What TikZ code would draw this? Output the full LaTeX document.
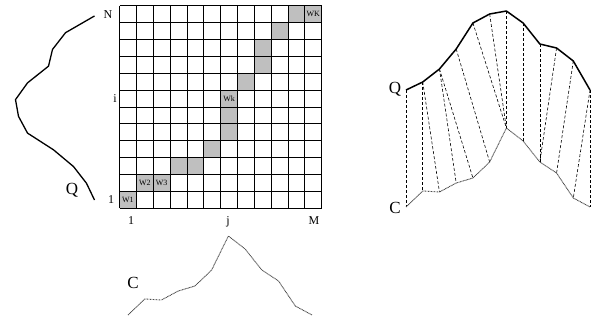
\documentclass[tikz,border=0pt]{standalone}
\usepackage{fontspec}
\setmainfont{Liberation Serif}
\usetikzlibrary{calc}
\def\warppath{0/0,1/1,1/2,2/3,2/4,3/5,4/6,5/6,6/6,7/7,8/8,9/8,10/9,11/10,11/11}
\def\cs{16.85}

\begin{document}
\begin{tikzpicture}[x=1pt,y=-1pt,
  qline/.style={line width=1.3pt,line join=round},
  cline/.style={line width=0.9pt,black!70,dash pattern=on 0.9pt off 0.6pt},
  warp/.style={line width=0.6pt,dash pattern=on 3pt off 2pt},
  lab/.style={inner sep=0pt,font=\fontsize{12}{14}\selectfont},
  big/.style={inner sep=0pt,font=\fontsize{17}{19}\selectfont},
  wlab/.style={inner sep=0pt,font=\fontsize{8}{9}\selectfont}]
\useasboundingbox (0,0) rectangle (599,322);
\coordinate (O) at (119.5,208);
% warping path cells
\foreach \i/\j in \warppath
  \fill[gray!50] ($(O)+(\j*\cs,-\i*\cs)$) rectangle ++(\cs,-\cs);
\foreach \k in {0,...,12}{
  \draw[line width=0.8pt] ($(O)+(\k*\cs,0)$) -- ++(0,-12*\cs);
  \draw[line width=0.8pt] ($(O)+(0,-\k*\cs)$) -- ++(12*\cs,0);
}
\node[wlab] (w1) at ($(O)+(0.5*\cs,-0.5*\cs)$) {W1};
\node[wlab] (w2) at ($(O)+(1.5*\cs,-1.5*\cs)$) {W2};
\node[wlab] (w3) at ($(O)+(2.5*\cs,-1.5*\cs)$) {W3};
\node[wlab] (wk) at ($(O)+(6.5*\cs,-6.5*\cs)$) {Wk};
\node[wlab] (wK) at ($(O)+(11.5*\cs,-11.5*\cs)$) {WK};
% axis labels
\node[lab] (N) at (108,15) {N}; \node[lab] (i) at (115,99) {i}; \node[lab] (one) at (111,200) {1};
\node[lab] (oneb) at (131,221) {1}; \node[lab] (j) at (228,222) {j}; \node[lab] (M) at (314,221) {M};
% the two series
\foreach \y [count=\k from 0] in {90,82,69,49,23,14,11,23,44,48,61,90}{
  \coordinate (q\k) at (406+\k*16.73,\y);
  \coordinate (lq\k) at (\y+4.5,200-\k*16.73);
}
\foreach \y [count=\k from 0] in {207,191,192,183,178,162,128,141,162,173,198,207}{
  \coordinate (c\k) at (406+\k*16.73,\y);
  \coordinate (lc\k) at (128+\k*16.73,\y+108);
}
\foreach \i/\j in \warppath \draw[warp] (q\i) -- (c\j);
\draw[qline] (lq0) \foreach \k in {1,...,11}{ -- (lq\k)};
\draw[cline] (lc0) \foreach \k in {1,...,11}{ -- (lc\k)};
\draw[qline,line width=1.5pt] (q0) \foreach \k in {1,...,11}{ -- (q\k)};
\draw[cline] (c0) \foreach \k in {1,...,11}{ -- (c\k)};
\node[big] (Ql) at (72,190) {Q}; \node[big] (Cb) at (133,283) {C};
\node[big] (Qr) at (395,89) {Q}; \node[big] (Cr) at (395,208) {C};
\end{tikzpicture}
\end{document}
